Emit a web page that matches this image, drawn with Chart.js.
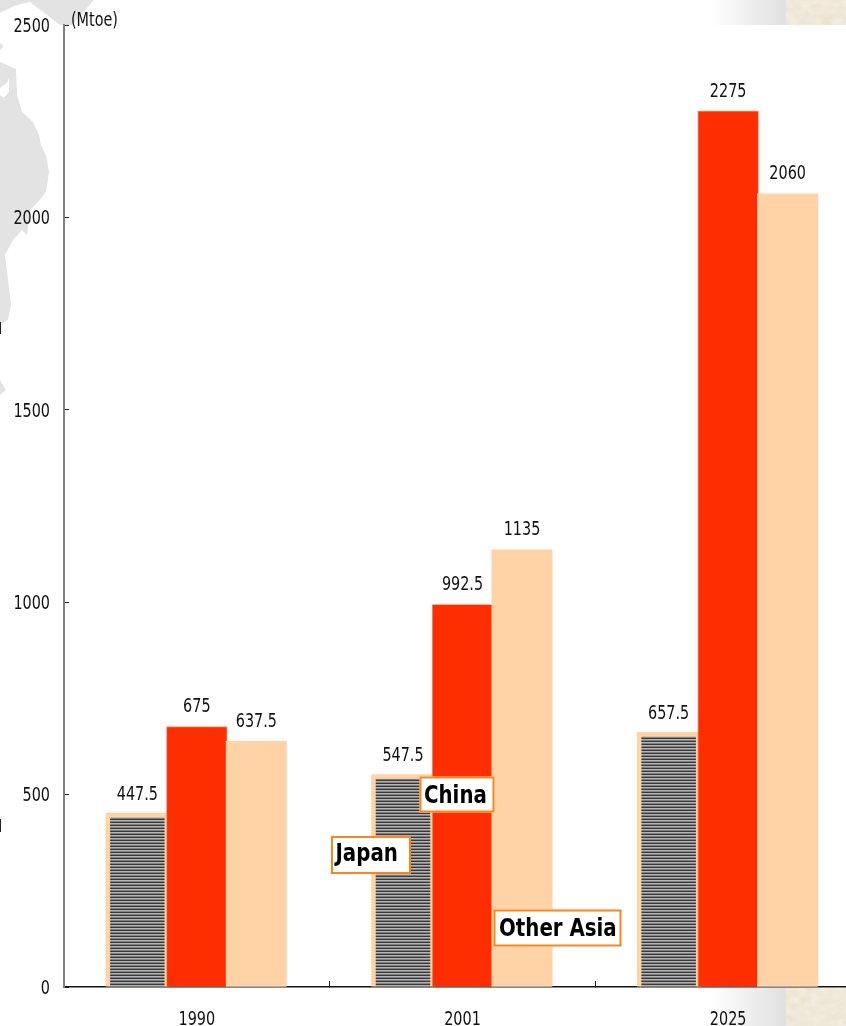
<!DOCTYPE html>
<html><head><meta charset="utf-8">
<style>
html,body{margin:0;padding:0;background:#fff;overflow:hidden;width:846px;height:1026px}
#bg{position:absolute;left:0;top:0}
#wrap{position:absolute;left:0;top:0;width:846px;height:1026px;overflow:hidden}
canvas{position:absolute;left:0;top:0}
</style>
<script src="https://cdn.jsdelivr.net/npm/chart.js@4"></script>
</head><body>
<svg id="bg" width="846" height="1026" xmlns="http://www.w3.org/2000/svg">
<defs>
<linearGradient id="g" x1="0" x2="1" y1="0" y2="0"><stop offset="0" stop-color="#fff"/><stop offset="1" stop-color="#e0e0e0"/></linearGradient>
<filter id="tex" x="0" y="0" width="100%" height="100%"><feTurbulence type="fractalNoise" baseFrequency="0.09 0.14" numOctaves="2" seed="4"/><feColorMatrix values="0 0 0 0 0.93  0 0 0 0 0.89  0 0 0 0 0.80  0.9 0 0 0 0.1"/></filter>
</defs>
<rect x="710" y="0" width="76" height="25" fill="url(#g)"/>
<rect x="710" y="988" width="76" height="38" fill="url(#g)"/>
<rect x="786" y="0" width="60" height="25" fill="#e6dcc8"/>
<rect x="786" y="0" width="60" height="25" filter="url(#tex)"/>
<rect x="786" y="988" width="60" height="38" fill="#e6dcc8"/>
<rect x="786" y="988" width="60" height="38" filter="url(#tex)"/>
<path fill="#e3e3e3" d="M0,13 L14,6 L30,2 L60,25 L72,25 L94,0 L0,0Z"/>
<path fill="#e3e3e3" d="M0,43 L4,46 L0,50Z"/>
<path fill="#e3e3e3" d="M0,62 L16,69 L17,95 L22,112 L33,122 L39,135 L41,145 L46,155 L49,172 L46,192 L38,202 L30,210 L27,235 L22,230 L13,240 L5,255 L8,280 L11,305 L8,320 L0,325Z"/>
<path fill="#e3e3e3" d="M0,380 L6,390 L0,395Z"/>
<path fill="#fff" d="M0,88 L7,83 L9,78 L9,92 L4,98 L0,95Z"/>
<path fill="#222" d="M0,322 L1,322 L1,334 L0,334Z M0,819 L1,819 L1,832 L0,832Z"/>
</svg>
<div id="wrap"><canvas id="c" width="861" height="1026" style="width:861px;height:1026px"></canvas></div>
<script>
const categories = ['1990','2001','2025'];
const japan = [447.5,547.5,657.5];
const china = [675,992.5,2275];
const otherAsia = [637.5,1135,2060];
const seriesNames = ['Japan','China','Other Asia'];
const unitLabel = '(Mtoe)';
const FONT = '"DejaVu Sans Condensed","DejaVu Sans",sans-serif';
const PEACH='#ffd3a6';

const canvas=document.getElementById('c');
const ctx0=canvas.getContext('2d');
const rawFill=ctx0.fillText.bind(ctx0);
ctx0.fillText=function(t,px,py){
  // the reference's light text is a horizontally squeezed face
  if(ctx0.font.indexOf('bold')>=0){rawFill(t,px,py);return;}
  const dy=ctx0.textBaseline==='middle'?1.5:0;
  ctx0.save();ctx0.translate(px,py+dy);ctx0.scale(0.8,1);rawFill(t,0,0);ctx0.restore();
};

function hatch(){
  const p=document.createElement('canvas');p.width=4;p.height=3;
  const x=p.getContext('2d');x.fillStyle='#b4b4b4';x.fillRect(0,0,4,3);
  x.fillStyle='#383838';x.fillRect(0,0,4,1);x.fillStyle='#808080';x.fillRect(0,2,4,1);
  return x.createPattern(p,'repeat');
}
const edges=[[2,PEACH],[.75,'#ff9478'],[.75,PEACH]];
const decor={id:'decor',
 beforeDatasetsDraw(c){
  const x=c.ctx;
  [0,1,2].forEach(i=>{
    const m=c.getDatasetMeta(i);
    x.save();x.fillStyle=edges[i][1];const e=edges[i][0];
    m.data.forEach(b=>x.fillRect(b.x-b.width/2-e,b.y-e,b.width+2*e,b.base-b.y+e));
    x.restore();
    m.controller.draw();
  });
  return false;
 },
 afterDraw(c){
  const x=c.ctx;x.save();x.font='20px '+FONT;x.fillStyle='#111';x.textAlign='center';x.textBaseline='alphabetic';
  c.data.datasets.forEach((d,i)=>c.getDatasetMeta(i).data.forEach((b,j)=>{
    x.fillText(String(d.data[j]),b.x,b.y-15);
  }));
  x.textAlign='left';x.fillText(unitLabel,71,26);
  const boxes=[[331,836,80,38,335.5,861],[419.5,776.5,75,36,424,802.5],[493.5,909.5,128,37,499,936]];
  boxes.forEach((r,i)=>{
    x.fillStyle='#fff';x.fillRect(r[0],r[1],r[2],r[3]);
    x.strokeStyle='#ff8418';x.lineWidth=2;x.strokeRect(r[0]+1,r[1]+1,r[2]-2,r[3]-2);
    x.save();x.translate(r[4],r[5]);x.scale(1,1.12);
    x.font='bold 22px '+FONT;x.fillStyle='#000';x.fillText(seriesNames[i],0,0);x.restore();
  });
  x.restore();
 }};
new Chart(canvas,{
 type:'bar',
 data:{labels:categories,datasets:[
  {label:seriesNames[0],data:japan,backgroundColor:hatch(),borderColor:PEACH,borderWidth:2.5},
  {label:seriesNames[1],data:china,backgroundColor:'#ff2e00'},
  {label:seriesNames[2],data:otherAsia,backgroundColor:PEACH}
 ]},
 plugins:[decor],
 options:{responsive:false,animation:false,
  layout:{padding:{top:25,left:0,right:0,bottom:0}},
  plugins:{legend:{display:false},tooltip:{enabled:false}},
  datasets:{bar:{barPercentage:1,categoryPercentage:0.672}},
  scales:{
   x:{z:1,afterFit(a){a.height=39},grid:{drawOnChartArea:false,drawTicks:true,tickLength:-6,tickColor:'#222'},border:{color:'#111',width:1.5},
      ticks:{color:'#111',font:{family:FONT,size:20},padding:25,maxRotation:0}},
   y:{min:0,max:2500,afterFit(a){a.width=64;a.paddingTop=0;a.paddingBottom=0},grid:{drawOnChartArea:false,drawTicks:true,tickLength:-5,tickColor:'#222'},border:{color:'#808080',width:2},
      ticks:{stepSize:500,color:'#111',font:{family:FONT,size:20},padding:19,callback:v=>String(v)}}
  }
 }
});
</script>
</body></html>
